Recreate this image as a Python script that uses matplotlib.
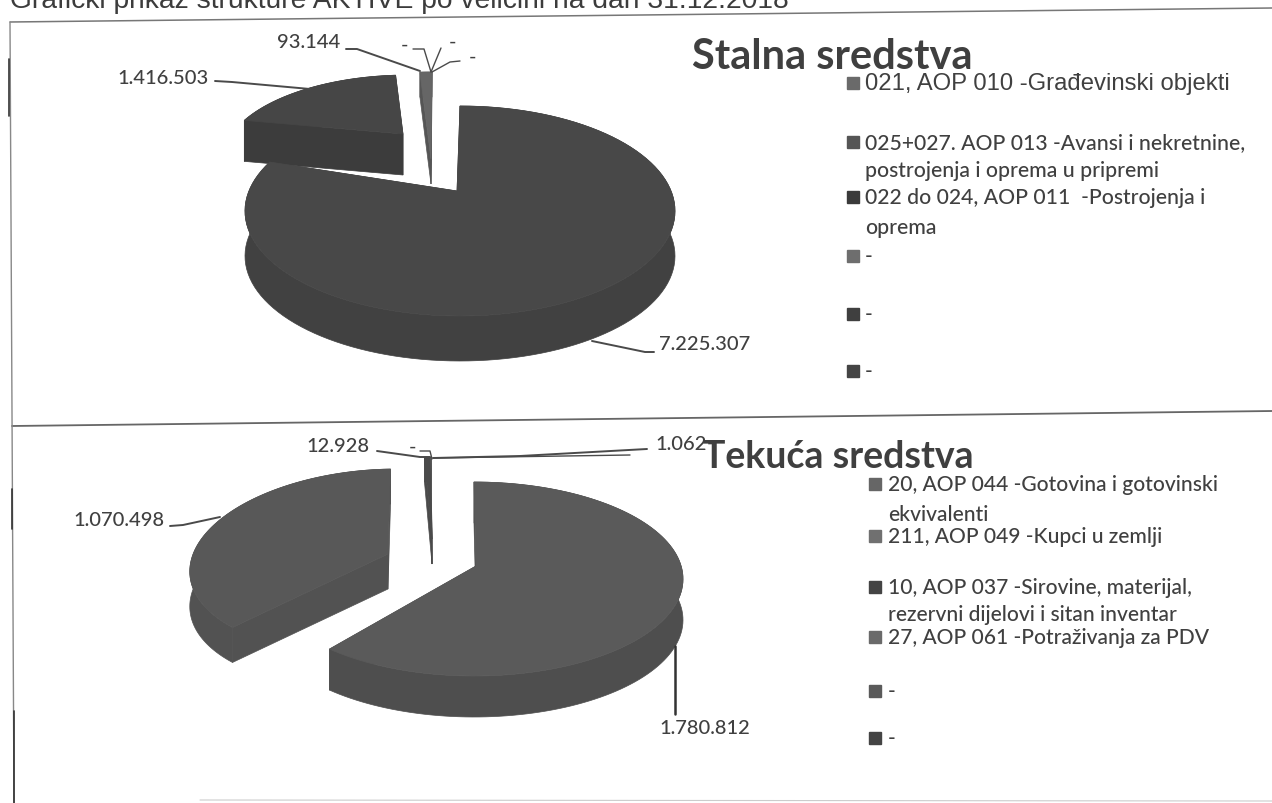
import numpy as np
import matplotlib
matplotlib.use('Agg')
import matplotlib.pyplot as plt
from matplotlib.patches import Polygon

# Chart data
header = 'Grafički prikaz strukture AKTIVE po veličini na dan 31.12.2018'

stalna_title = 'Stalna sredstva'
stalna_values = [7225307, 1416503, 93144]
stalna_labels = ['7.225.307', '1.416.503', '93.144', '-', '-', '-']
stalna_legend = ['021, AOP 010 -Građevinski objekti',
                 '025+027. AOP 013 -Avansi i nekretnine,\npostrojenja i oprema u pripremi',
                 '022 do 024, AOP 011  -Postrojenja i\noprema',
                 '-', '-', '-']

tekuca_title = 'Tekuća sredstva'
tekuca_values = [1780812, 1070498, 12928, 1062]
tekuca_labels = ['1.780.812', '1.070.498', '12.928', '-', '1.062', '-']
tekuca_legend = ['20, AOP 044 -Gotovina i gotovinski\nekvivalenti',
                 '211, AOP 049 -Kupci u zemlji',
                 '10, AOP 037 -Sirovine, materijal,\nrezervni dijelovi i sitan inventar',
                 '27, AOP 061 -Potraživanja za PDV',
                 '-', '-']

TEXT = '#404040'
LABEL_FONT = ['Lato', 'DejaVu Sans']
ARIAL = ['Liberation Sans', 'DejaVu Sans']

fig = plt.figure(figsize=(12.72, 8.04), dpi=100)
ax = fig.add_axes([0, 0, 1, 1])
ax.set_xlim(0, 1272)
ax.set_ylim(804, 0)
ax.axis('off')


def draw_slice(t0, t1, center, rx, ry, apex, depth, top, side, shear=0.0):
    # one exploded 3D slice, t0 and t1 in degrees clockwise from 12 o'clock
    th = np.radians(np.linspace(t0, t1, 120))
    ys = center[1] - ry * np.cos(th)
    xs = center[0] + rx * np.sin(th) + shear * (ys - center[1])
    rim = np.column_stack([xs, ys])
    drop = np.array([0, depth])
    ap = np.array(apex, dtype=float)
    # outer wall, then the two cut walls, top surface last
    ax.add_patch(Polygon(np.vstack([rim, (rim + drop)[::-1]]), fc=side, ec=side, lw=0.5))
    for p in (rim[0], rim[-1]):
        ax.add_patch(Polygon([ap, p, p + drop, ap + drop], fc=side, ec=side, lw=0.5))
    ax.add_patch(Polygon(np.vstack([ap, rim]), fc=top, ec=top, lw=0.5))


def draw_pie(values, shapes):
    total = float(sum(values))
    ends = np.cumsum(values) / total * 360.0
    starts = np.concatenate([[0.0], ends[:-1]])
    # back slices first so the big one overlaps them
    for i in range(len(values) - 1, -1, -1):
        draw_slice(starts[i], ends[i], **shapes[i])


def leader(points, lw=1.4, color='#4a4a4a'):
    xy = np.array(points)
    ax.plot(xy[:, 0], xy[:, 1], color=color, lw=lw, solid_capstyle='round')


def legend(items, x_box, x_text, rows, colors, fonts, size):
    for item, row, c, fam, fs in zip(items, rows, colors, fonts, size):
        ax.plot(x_box, row[0], 's', ms=8.5, color=c, mec=c)
        lines = item.split('\n')
        for line, y in zip(lines, row):
            ax.text(x_text, y, line, family=fam, fontsize=fs, color=TEXT, va='center', ha='left',
                    fontweight='medium')


# page frame of the scan
leader([(10, 23), (1272, 9)], lw=1.1, color='#777777')
leader([(12, 427), (1272, 412)], lw=1.3, color='#666666')
leader([(10, 23), (14, 804)], lw=1.0, color='#888888')
leader([(9, 60), (9, 117)], lw=1.2, color='#333333')
leader([(12, 490), (12, 530)], lw=1.2, color='#333333')
leader([(14, 712), (14, 804)], lw=1.2, color='#333333')
leader([(200, 801), (1272, 802)], lw=0.8, color='#cccccc')

ax.text(10, 8, header, family=ARIAL, fontsize=20.3, color='#3c3c3c', va='baseline', ha='left')

# upper pie
draw_pie(stalna_values, [
    dict(center=(460, 212), rx=215, ry=105, apex=(457, 192), depth=45, top='#484848', side='#414141'),
    dict(center=(408, 161), rx=185, ry=85, apex=(403, 135), depth=41, top='#464646', side='#3c3c3c'),
    dict(center=(432, 158), rx=180, ry=85, apex=(431, 160), depth=25, top='#666666', side='#555555'),
])
ax.text(692, 57, stalna_title, family=LABEL_FONT, fontweight='bold', fontsize=30,
        color='#3f3f3f', va='center', ha='left')

leader([(592, 342), (645, 353), (654, 353)])
leader([(215, 82), (232, 83), (310, 90)])
leader([(346, 50), (357, 50), (420, 72)])
leader([(413, 50), (424, 50), (431, 73)], lw=1.0)
leader([(441, 49), (431, 73)], lw=1.0)
leader([(460, 62), (450, 63), (432, 73)], lw=1.0)
label_pos = [(705, 345), (163, 79), (309, 43), (404, 45), (453, 42), (472, 57)]
for s, (x, y) in zip(stalna_labels, label_pos):
    ax.text(x, y, s, family=LABEL_FONT, fontsize=14.5, color=TEXT, va='center', ha='center',
            fontweight='medium')

legend(stalna_legend, 853, 865, [(84,), (143, 171), (198, 228), (257,), (315,), (372,)],
       ['#6a6a6a', '#555555', '#3a3a3a', '#6e6e6e', '#3f3f3f', '#444444'],
       [ARIAL, LABEL_FONT, LABEL_FONT, LABEL_FONT, LABEL_FONT, LABEL_FONT],
       [17.2, 15.2, 15.2, 15.2, 15.2, 15.2])

# lower pie
draw_pie(tekuca_values, [
    dict(center=(474, 580), rx=209, ry=97, apex=(476, 567), depth=41, top='#5a5a5a', side='#4e4e4e'),
    dict(center=(375, 562), rx=184, ry=92, apex=(388, 555), depth=35, top='#585858', side='#525252', shear=-0.23),
    dict(center=(430, 543), rx=180, ry=85, apex=(432, 540), depth=25, top='#4a4a4a', side='#4a4a4a'),
    dict(center=(431, 543), rx=180, ry=85, apex=(432, 540), depth=25, top='#555555', side='#555555'),
])
ax.text(703, 457, tekuca_title, family=LABEL_FONT, fontweight='bold', fontsize=27,
        color='#3f3f3f', va='center', ha='left')

leader([(675, 647), (675, 715)], lw=1.8, color='#333333')
leader([(170, 527), (183, 526), (220, 518)])
leader([(377, 452), (420, 458), (430, 458)])
leader([(420, 452), (430, 452), (432, 460)], lw=1.0)
leader([(433, 459), (520, 457), (647, 450)])
leader([(433, 459), (630, 456)], lw=1.0)
label_pos = [(705, 729), (119, 521), (338, 447), (413, 447), (681, 445), (711, 443)]
for s, (x, y) in zip(tekuca_labels, label_pos):
    ax.text(x, y, s, family=LABEL_FONT, fontsize=14.5, color=TEXT, va='center', ha='center',
            fontweight='medium')

legend(tekuca_legend, 875, 888, [(485, 515), (537,), (588, 615), (638,), (692,), (739,)],
       ['#666666', '#707070', '#444444', '#6a6a6a', '#5a5a5a', '#444444'],
       [LABEL_FONT] * 6, [15.1] * 6)

fig.savefig('out.png', dpi=100)
